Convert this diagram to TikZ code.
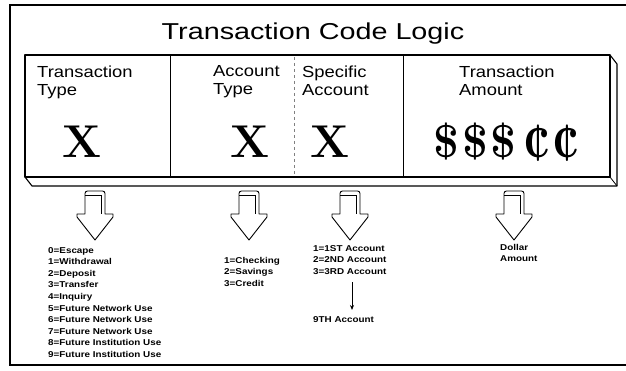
\documentclass[tikz,border=0pt]{standalone}
\usepackage{fontspec}
\usepackage{graphicx}
\setsansfont{Liberation Sans}
\newfontfamily\titlefont[FakeStretch=1.25]{Liberation Sans}
\newfontfamily\labfont[FakeStretch=1.15]{Liberation Sans}
\newfontfamily\listfont[FakeStretch=1.16]{Liberation Sans}
\usetikzlibrary{arrows.meta}
\tikzset{
  boxlabel/.style={anchor=north west, inner sep=0pt, align=left, font=\labfont\fontsize{16}{18}\selectfont},
  bigx/.style={anchor=base, inner sep=0pt, font=\rmfamily\bfseries\fontsize{46}{46}\selectfont},
  listtext/.style={anchor=north west, inner sep=0pt, align=left, font=\listfont\bfseries\fontsize{8.5}{11.6}\selectfont},
  edge3d/.style={line width=1.1pt, line join=round},
  blockarrow/.pic={
    \draw[fill=white, line width=0.9pt, line join=round]
      (-10,23) -- (-18,23) -- (-18,26) -- (0,49) -- (18,26) -- (18,23) -- (10,23)
      [rounded corners=2.5pt] -- (10,0) -- (-10,0) [sharp corners] -- cycle;
    \draw[line width=0.6pt] (-10,4) -- (6,4) -- (6,23);
  }
}
\newcommand{\bigcent}{\scalebox{1.1}[1.4]{¢}}
\begin{document}
\begin{tikzpicture}[x=1pt,y=-1pt]
\useasboundingbox (0,0) rectangle (626,371);
\fill[white] (0,0) rectangle (626,371);
% outer frame
\draw[line width=1.4pt] (626,5) -- (10,5) -- (10,365) -- (626,365);
% title
\node[anchor=base, inner sep=0pt, font=\titlefont\fontsize{23}{26}\selectfont] (title) at (313,40) {Transaction Code Logic};
% 3D box
\draw[edge3d] (25,55) rectangle (610,177);
\draw[edge3d] (610,55) -- (617,64) -- (617,186) -- (32,186) -- (25,177);
\draw[line width=0.8pt] (610,177) -- (617,186);
\draw[line width=1pt] (170,55) -- (170,177) (403,55) -- (403,177);
\draw[gray, dashed, line width=0.6pt] (294,57) -- (294,175);
% field labels
\node[boxlabel] (lt1) at (37,65.5) {Transaction\\Type};
\node[boxlabel] (lt2) at (213,65.5) {Account\\Type};
\node[boxlabel] (lt3) at (302,65.5) {Specific\\Account};
\node[boxlabel] (lt4) at (459,65.5) {Transaction\\Amount};
\node[bigx] (x1) at (82,158) {X};
\node[bigx] (x2) at (250,158) {X};
\node[bigx] (x3) at (330,158) {X};
\node[anchor=base west, inner sep=0pt, font=\rmfamily\bfseries\fontsize{46}{46}\selectfont] (money) at (433,158) {\$\kern3pt\$\kern3pt\$\kern8pt\bigcent\kern3pt\bigcent};
% block arrows
\pic at (95,191) {blockarrow};
\pic at (249,191) {blockarrow};
\pic at (350,191) {blockarrow};
\pic at (514,191) {blockarrow};
% lists
\node[listtext] (l1) at (48,247) {0=Escape\\1=Withdrawal\\2=Deposit\\3=Transfer\\4=Inquiry\\5=Future Network Use\\6=Future Network Use\\7=Future Network Use\\8=Future Institution Use\\9=Future Institution Use};
\node[listtext] (l2) at (224,257) {1=Checking\\2=Savings\\3=Credit};
\node[listtext] (l3) at (313,245) {1=1ST Account\\2=2ND Account\\3=3RD Account};
\node[listtext] (nine) at (313,316) {9TH Account};
\node[listtext] (l4) at (500,244) {Dollar\\Amount};
\coordinate (vtop) at (352,282);
\draw[line width=0.8pt, -{Stealth[length=5pt,width=4pt]}] (vtop) -- ([yshift=6pt]vtop |- nine.north);
\end{tikzpicture}
\end{document}
